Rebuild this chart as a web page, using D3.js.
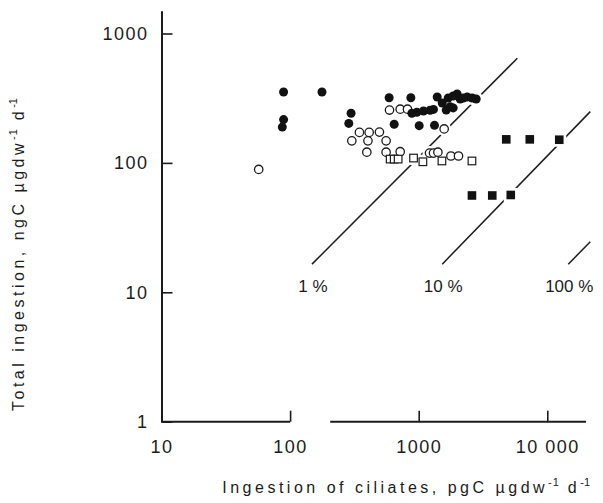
<!DOCTYPE html>
<html>
<head>
<meta charset="utf-8">
<script src="https://cdn.jsdelivr.net/npm/d3@7"></script>
<style>
  body { margin: 0; background: #fff; }
  svg { display: block; font-family: "Liberation Sans", Arial, Helvetica, sans-serif; }
</style>
</head>
<body>
<div class="chart"></div>
<script>
// values: [ciliate ingestion pgC, total ingestion ngC]
const filledCircles = [
  [89, 353], [177, 353], [89, 216], [87, 189], [298, 242], [286, 202],
  [589, 319], [869, 319], [645, 199], [1009, 194], [1327, 195],
  [885, 242], [968, 246], [1089, 252], [1227, 255], [1303, 259],
  [1393, 323], [1524, 290], [1637, 256], [1696, 317], [1854, 329], [1991, 341],
  [2102, 312], [2218, 317], [2384, 323], [2606, 317], [2801, 312],
  [1758, 272], [1854, 266]
];
const openCircles = [
  [57, 89], [302, 148], [346, 172], [412, 172], [495, 173], [403, 148], [558, 148],
  [395, 121], [558, 121], [718, 122], [593, 256], [718, 260], [818, 260],
  [1578, 183], [1214, 119], [1303, 119], [1410, 121], [1781, 113], [2040, 113]
];
const openSquares = [
  [600, 107], [645, 107], [692, 107], [912, 109], [1078, 102], [1516, 103.5], [2595, 103.5]
];
const filledSquares = [
  [4797, 152], [7310, 152], [12390, 151], [2595, 56], [3733, 56], [5200, 56.5]
];

// percentage lines (ciliates as % of total ingestion), end points
const pctLabels = ["1 %", "10 %", "100 %"];
const pctStart = [[148, 16.5], [1524, 16.5], [14560, 16.5]];
const pctEnd = [[5850, 643], [21600, 249], [21600, 24.6]];

const xTicks = [10, 100, 1000, 10000];
const xTickLabels = ["10", "100", "1000", "10 000"];
const yTicks = [1, 10, 100, 1000];
const yTickLabels = ["1", "10", "100", "1000"];
// the printed x axis line is broken between these values
const xAxisPieces = [[10, 100], [205, 20000]];

const w = 603, h = 503;
const ink = "#1c1c1c";

const svg = d3.select(".chart").append("svg").attr("width", w).attr("height", h);
svg.append("rect").attr("width", w).attr("height", h).attr("fill", "#fff");

const x = d3.scaleLog().domain([10, 20000]).range([161.5, 586]);
const y = d3.scaleLog().domain([1, 1500]).range([421.7, 10.7]);

// axes
const xAxis = d3.axisBottom(x)
  .tickValues(xTicks)
  .tickFormat((d, i) => xTickLabels[i])
  .tickSizeInner(-11)
  .tickSizeOuter(0)
  .tickPadding(19);
const yAxis = d3.axisLeft(y)
  .tickValues(yTicks)
  .tickFormat((d, i) => yTickLabels[i])
  .tickSizeInner(-11)
  .tickSizeOuter(0)
  .tickPadding(13);

const gx = svg.append("g").attr("transform", "translate(0," + y(1) + ")").call(xAxis);
gx.select(".domain").remove();
gx.selectAll("line").attr("stroke", ink).attr("stroke-width", 1.6);
gx.selectAll(".baseline")
  .data(xAxisPieces)
  .enter()
  .append("line")
  .attr("x1", (d) => x(d[0]))
  .attr("x2", (d) => x(d[1]))
  .attr("stroke", ink)
  .attr("stroke-width", 2);

const gy = svg.append("g").attr("transform", "translate(" + x(10) + ",0)").call(yAxis);
gy.select(".domain").attr("stroke", ink).attr("stroke-width", 2);
gy.selectAll("line").attr("stroke", ink).attr("stroke-width", 1.6);

svg.selectAll(".tick text")
  .attr("fill", ink)
  .style("font-size", "18px")
  .style("letter-spacing", "1.5px")
  .style("font-family", "'Liberation Sans', Arial, sans-serif");

// percentage lines
svg.selectAll(".pct")
  .data(pctLabels)
  .enter()
  .append("line")
  .attr("class", "pct")
  .attr("x1", (d, i) => x(pctStart[i][0]))
  .attr("y1", (d, i) => y(pctStart[i][1]))
  .attr("x2", (d, i) => x(pctEnd[i][0]))
  .attr("y2", (d, i) => y(pctEnd[i][1]))
  .attr("stroke", ink)
  .attr("stroke-width", 1.5);

svg.selectAll(".pct-label")
  .data(pctLabels)
  .enter()
  .append("text")
  .attr("class", "pct-label")
  .attr("x", (d, i) => x(pctStart[i][0]) + 1)
  .attr("y", y(10))
  .attr("text-anchor", "middle")
  .attr("fill", ink)
  .style("font-size", "17px")
  .text((d) => d);

// white halos first so the lines break around the symbols
const all = [].concat(filledCircles, openCircles);
const squares = [].concat(openSquares, filledSquares);
svg.append("g").selectAll("circle")
  .data(all)
  .enter()
  .append("circle")
  .attr("cx", (d) => x(d[0]))
  .attr("cy", (d) => y(d[1]))
  .attr("r", 7)
  .attr("fill", "#fff");
svg.append("g").selectAll("rect")
  .data(squares)
  .enter()
  .append("rect")
  .attr("x", (d) => x(d[0]) - 7)
  .attr("y", (d) => y(d[1]) - 7)
  .attr("width", 14)
  .attr("height", 14)
  .attr("fill", "#fff");

svg.append("g").selectAll("circle")
  .data(openCircles)
  .enter()
  .append("circle")
  .attr("cx", (d) => x(d[0]))
  .attr("cy", (d) => y(d[1]))
  .attr("r", 4.2)
  .attr("fill", "#fff")
  .attr("stroke", ink)
  .attr("stroke-width", 1.3);

svg.append("g").selectAll("rect")
  .data(openSquares)
  .enter()
  .append("rect")
  .attr("x", (d) => x(d[0]) - 3.8)
  .attr("y", (d) => y(d[1]) - 3.8)
  .attr("width", 7.6)
  .attr("height", 7.6)
  .attr("fill", "#fff")
  .attr("stroke", ink)
  .attr("stroke-width", 1.2);

svg.append("g").selectAll("circle")
  .data(filledCircles)
  .enter()
  .append("circle")
  .attr("cx", (d) => x(d[0]))
  .attr("cy", (d) => y(d[1]))
  .attr("r", 4.5)
  .attr("fill", "#111");

svg.append("g").selectAll("rect")
  .data(filledSquares)
  .enter()
  .append("rect")
  .attr("x", (d) => x(d[0]) - 4.3)
  .attr("y", (d) => y(d[1]) - 4.3)
  .attr("width", 8.6)
  .attr("height", 8.6)
  .attr("fill", "#111");

// axis titles
function title(g, main) {
  g.attr("fill", ink).style("font-size", "16px").style("letter-spacing", "3.5px");
  g.append("tspan").text(main + " µgdw");
  g.append("tspan").attr("dy", -7).style("font-size", "11px").style("letter-spacing", "1px").text("-1");
  g.append("tspan").attr("dy", 7).text(" d");
  g.append("tspan").attr("dy", -7).style("font-size", "11px").style("letter-spacing", "0px").text("-1");
}

title(svg.append("text")
  .attr("x", 590)
  .attr("y", 492.5)
  .attr("text-anchor", "end"), "Ingestion of ciliates, pgC");

title(svg.append("text")
  .attr("transform", "translate(23.5,411) rotate(-90)")
  .attr("text-anchor", "start"), "Total ingestion, ngC");
</script>
</body>
</html>
